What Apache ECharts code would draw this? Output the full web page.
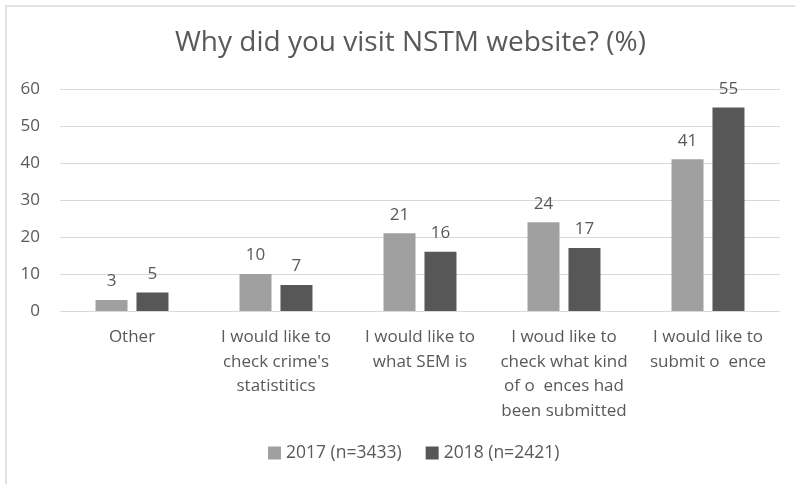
<!DOCTYPE html>
<html>
<head>
<meta charset="utf-8">
<script src="https://cdn.jsdelivr.net/npm/echarts@6/dist/echarts.min.js"></script>
<style>
  html, body { margin: 0; padding: 0; background: #fff; }
  #chart { width: 795px; height: 484px; }
</style>
</head>
<body>
<div id="chart"></div>
<script>
var categories = [
    'Other',
    'I would like to\ncheck crime\'s\nstatistitics',
    'I would like to\nwhat SEM is',
    'I woud like to\ncheck what kind\nof o  ences had\nbeen submitted',
    'I would like to\nsubmit o  ence'
];
var values2017 = [3, 10, 21, 24, 41];
var values2018 = [5, 7, 16, 17, 55];
var seriesNames = ['2017 (n=3433)', '2018 (n=2421)'];

var textColor = '#595959';
var fontFam = '"Open Sans", "Noto Sans", sans-serif';

var myChart = echarts.init(document.getElementById('chart'));

var option = {
    backgroundColor: '#fff',
    textStyle: { fontFamily: fontFam },
    title: {
        text: 'Why did you visit NSTM website? (%)',
        left: 170,
        top: 24,
        textStyle: {
            fontSize: 28,
            fontWeight: 'normal',
            color: textColor,
            fontFamily: fontFam
        }
    },
    graphic: [{
        type: 'rect',
        shape: { x: 6, y: 6, width: 900, height: 600 },
        style: { fill: 'none', stroke: '#e2e2e2', lineWidth: 2 },
        silent: true
    }],
    legend: {
        data: seriesNames,
        bottom: 17,
        left: 263,
        itemWidth: 13,
        itemHeight: 13,
        itemGap: 24,
        icon: 'rect',
        textStyle: { fontSize: 17.5, color: textColor, fontFamily: fontFam }
    },
    grid: {
        left: 60,
        right: 15,
        top: 89,
        bottom: 173,
        containLabel: false
    },
    xAxis: {
        type: 'category',
        data: categories,
        axisLine: { lineStyle: { color: '#d9d9d9', width: 1 } },
        axisTick: { show: false },
        axisLabel: {
            interval: 0,
            fontSize: 17,
            lineHeight: 24.5,
            margin: 14,
            color: textColor,
            fontFamily: fontFam
        }
    },
    yAxis: {
        type: 'value',
        min: 0,
        max: 60,
        interval: 10,
        axisLine: { show: false },
        axisTick: { show: false },
        splitLine: { lineStyle: { color: '#d9d9d9', width: 1 } },
        axisLabel: {
            fontSize: 17,
            margin: 20,
            color: textColor,
            fontFamily: fontFam
        }
    },
    series: [
        {
            name: seriesNames[0],
            type: 'bar',
            data: values2017,
            barWidth: 32,
            barGap: '28%',
            itemStyle: { color: '#a0a0a0' },
            label: {
                show: true,
                position: 'top',
                distance: 10,
                fontSize: 17,
                color: textColor,
                fontFamily: fontFam
            }
        },
        {
            name: seriesNames[1],
            type: 'bar',
            data: values2018,
            barWidth: 32,
            itemStyle: { color: '#575757' },
            label: {
                show: true,
                position: 'top',
                distance: 10,
                fontSize: 17,
                color: textColor,
                fontFamily: fontFam
            }
        }
    ]
};

myChart.setOption(option);
</script>
</body>
</html>
